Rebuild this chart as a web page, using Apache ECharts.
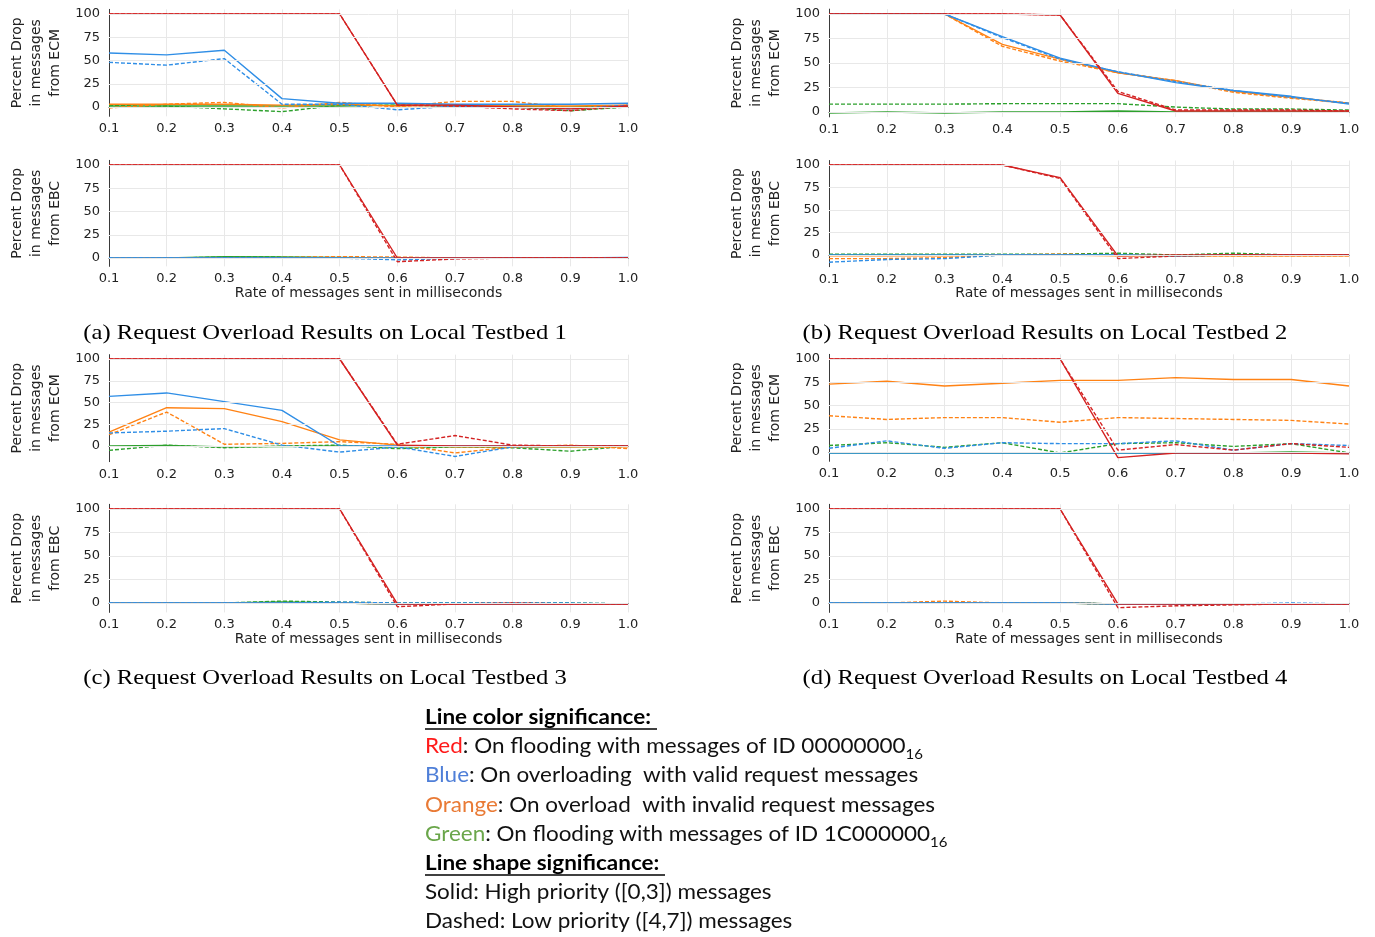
<!DOCTYPE html>
<html>
<head>
<meta charset="utf-8">
<script src="https://cdn.jsdelivr.net/npm/echarts@6/dist/echarts.min.js"></script>
<style>
html,body{margin:0;padding:0;background:#fff;}
#c{width:1375px;height:937px;}
</style>
</head>
<body>
<div id="c"></div>
<script>
// ---------------- DATA ----------------
const rates = ['0.1','0.2','0.3','0.4','0.5','0.6','0.7','0.8','0.9','1.0'];
const yTicks = [0, 25, 50, 75, 100];

// Testbed 1 – ECM
const t1_ecm_red_hi    = [100,100,100,100,100,2,2,0,-2,1];
const t1_ecm_red_lo    = [100,100,100,100,100,2,1,-2,-4,1];
const t1_ecm_blue_hi   = [58,56,61,9,4,4,3,3,3,4];
const t1_ecm_blue_lo   = [48,45,52,3,3,-3,1,0,-2,2];
const t1_ecm_orange_hi = [3,3,3,2,3,1,2,1,1,2];
const t1_ecm_orange_lo = [-1,3,5,-1,5,0,6,6,-1,2];
const t1_ecm_green_hi  = [1,1,1,1,1,2,1,1,0,1];
const t1_ecm_green_lo  = [2,1,-2,-5,2,2,2,0,-4,0];
// Testbed 1 – EBC
const t1_ebc_red_hi    = [100,100,100,100,100,0,0,0,0,0];
const t1_ebc_red_lo    = [100,100,100,100,100,-4,-1,0,0,0];
const t1_ebc_blue_hi   = [0,0,0,0,0,0,0,0,0,0.5];
const t1_ebc_blue_lo   = [0,0,0,0,0,-2,-0.5,0,0,0];
const t1_ebc_orange_hi = [0,0,0,0,0,0,0,0,0,0];
const t1_ebc_orange_lo = [0,0,0,0.5,1.5,1,0,0,0,0];
const t1_ebc_green_hi  = [0,0,1.5,1,0.5,0,0,0,0,0];
const t1_ebc_green_lo  = [0,0,1,1,0.5,0,0,0,0,0];

// Testbed 2 – ECM
const t2_ecm_red_hi    = [100,100,100,100,99,19,1,1,1,1];
const t2_ecm_red_lo    = [100,100,100,100,99,21,2,2,2,1];
const t2_ecm_blue_hi   = [100,100,100,77,55,41,30,22,16,8];
const t2_ecm_blue_lo   = [100,100,100,76,54,41,31,22,15,9];
const t2_ecm_orange_hi = [100,100,100,69,54,40,32,21,15,9];
const t2_ecm_orange_lo = [100,100,100,67,52,40,32,20,14,9];
const t2_ecm_green_hi  = [-1,0,-1,0,0,1,0,0,0,0];
const t2_ecm_green_lo  = [8,8,8,8.5,8.5,8.5,5,3,3,2];
// Testbed 2 – EBC
const t2_ebc_red_hi    = [100,100,100,100,86,-1,0,0,0,0];
const t2_ebc_red_lo    = [100,100,100,100,85,-4,-1,0,0,0];
const t2_ebc_blue_hi   = [0,0,0,0,0,0,-1,0,0,0];
const t2_ebc_blue_lo   = [-8,-5,-4,0,0,0,-1,0,0,0];
const t2_ebc_orange_hi = [-1,-1,-1,0,0,-1,-1,-1,-1,-1];
const t2_ebc_orange_lo = [-4,-4,-3,0,1,0,-1,-1,-1,-1];
const t2_ebc_green_hi  = [0,0,0,0,0,0,-1,0,0,0];
const t2_ebc_green_lo  = [1,1,1,1,1,2,0,2,0,0];

// Testbed 3 – ECM
const t3_ecm_red_hi    = [100,100,100,100,100,1,0,0,0,0];
const t3_ecm_red_lo    = [100,100,100,100,100,2,12,1,0,0];
const t3_ecm_blue_hi   = [57,61,51,41,0,0,0,0,0,0];
const t3_ecm_blue_lo   = [15,17,20,1,-7,-1,-12,-1,0,0];
const t3_ecm_orange_hi = [16,44,43,28,7,1,-1,-1,-1,-1];
const t3_ecm_orange_lo = [13,39,2,3,5,2,-8,-1,1,-3];
const t3_ecm_green_hi  = [0,0.5,-1,-0.5,0,-1,-1,-1,-1,0];
const t3_ecm_green_lo  = [-5,1,-2,0,1,-3,-1,-2,-6,0];
// Testbed 3 – EBC
const t3_ebc_red_hi    = [100,100,100,100,100,-1,-1,-1,-1,-1];
const t3_ebc_red_lo    = [100,100,100,100,100,-4,-1,0,-1,-1];
const t3_ebc_blue_hi   = [0,0,0,0,0,-1,-1,-1,-1,-1];
const t3_ebc_blue_lo   = [0,0,0,0,1,0,0,0,0,-1];
const t3_ebc_orange_hi = [0,0,0,0,0,-1,-1,-1,-1,-1];
const t3_ebc_orange_lo = [0,0,0,0,0,-1,-1,-1,-1,-1];
const t3_ebc_green_hi  = [0,0,0,1,0,-1,-1,-1,-1,-1];
const t3_ebc_green_lo  = [0,0,0,2,1,0,0,0,0,-1];

// Testbed 4 – ECM
const t4_ecm_red_hi    = [100,100,100,100,100,-6,-1,-1,-1,-2];
const t4_ecm_red_lo    = [100,100,100,100,100,2,8,2,9,5];
const t4_ecm_blue_hi   = [-1,-1,-1,-1,-1,-1,-1,-1,-1,-1];
const t4_ecm_blue_lo   = [4,12,4,10,9,9,12,2,9,7];
const t4_ecm_orange_hi = [73,76,71,74,77,77,80,78,78,71];
const t4_ecm_orange_lo = [39,35,37,37,32,37,36,35,34,30];
const t4_ecm_green_hi  = [-1,-1,-1,-1,-1,-1,-1,-1,0,-1];
const t4_ecm_green_lo  = [7,10,5,10,-1,9,10,6,9,-1];
// Testbed 4 – EBC
const t4_ebc_red_hi    = [100,100,100,100,100,-1,-1,-1,-1,-1];
const t4_ebc_red_lo    = [100,100,100,100,100,-5,-3,-2,-1,-1];
const t4_ebc_blue_hi   = [0,0,0,0,0,-1,-1,-1,-1,-1];
const t4_ebc_blue_lo   = [0,0,0,0,0,-1,-1,-1,0,-1];
const t4_ebc_orange_hi = [0,0,0,0,0,-1,-1,-1,-1,-1];
const t4_ebc_orange_lo = [0,0,2,0,0,-1,-1,-1,-1,-1];
const t4_ebc_green_hi  = [0,0,0,0,0,-1,-1,-1,-1,-1];
const t4_ebc_green_lo  = [0,0,0,0,0,-1,-1,-1,-1,-1];

const yNameECM = 'Percent Drop\nin messages\nfrom ECM';
const yNameEBC = 'Percent Drop\nin messages\nfrom EBC';
const xName = 'Rate of messages sent in milliseconds';
const captions = [
  '(a) Request Overload Results on Local Testbed 1',
  '(b) Request Overload Results on Local Testbed 2',
  '(c) Request Overload Results on Local Testbed 3',
  '(d) Request Overload Results on Local Testbed 4'
];

// ---------------- LAYOUT ----------------
const COLORS = {green:'#2ca02c', orange:'#ff8214', blue:'#2f8ee6', red:'#d42222'};
const panels = [
  {x0:109, x1:628, y100:14,  y0:107, min:-10, max:105, yName:yNameECM, xTitle:false,
   d:{red:[t1_ecm_red_hi,t1_ecm_red_lo],blue:[t1_ecm_blue_hi,t1_ecm_blue_lo],orange:[t1_ecm_orange_hi,t1_ecm_orange_lo],green:[t1_ecm_green_hi,t1_ecm_green_lo]}},
  {x0:109, x1:628, y100:165, y0:258, min:-9,  max:105, yName:yNameEBC, xTitle:true,
   d:{red:[t1_ebc_red_hi,t1_ebc_red_lo],blue:[t1_ebc_blue_hi,t1_ebc_blue_lo],orange:[t1_ebc_orange_hi,t1_ebc_orange_lo],green:[t1_ebc_green_hi,t1_ebc_green_lo]}},
  {x0:829, x1:1349, y100:14, y0:112, min:-5,  max:105, yName:yNameECM, xTitle:false,
   d:{red:[t2_ecm_red_hi,t2_ecm_red_lo],blue:[t2_ecm_blue_hi,t2_ecm_blue_lo],orange:[t2_ecm_orange_hi,t2_ecm_orange_lo],green:[t2_ecm_green_hi,t2_ecm_green_lo]}},
  {x0:829, x1:1349, y100:165, y0:255, min:-13, max:105, yName:yNameEBC, xTitle:true,
   d:{red:[t2_ebc_red_hi,t2_ebc_red_lo],blue:[t2_ebc_blue_hi,t2_ebc_blue_lo],orange:[t2_ebc_orange_hi,t2_ebc_orange_lo],green:[t2_ebc_green_hi,t2_ebc_green_lo]}},
  {x0:109, x1:628, y100:359, y0:446, min:-18, max:105, yName:yNameECM, xTitle:false,
   d:{red:[t3_ecm_red_hi,t3_ecm_red_lo],blue:[t3_ecm_blue_hi,t3_ecm_blue_lo],orange:[t3_ecm_orange_hi,t3_ecm_orange_lo],green:[t3_ecm_green_hi,t3_ecm_green_lo]}},
  {x0:109, x1:628, y100:509, y0:603, min:-10, max:105, yName:yNameEBC, xTitle:true,
   d:{red:[t3_ebc_red_hi,t3_ebc_red_lo],blue:[t3_ebc_blue_hi,t3_ebc_blue_lo],orange:[t3_ebc_orange_hi,t3_ebc_orange_lo],green:[t3_ebc_green_hi,t3_ebc_green_lo]}},
  {x0:829, x1:1349, y100:359, y0:452, min:-10, max:105, yName:yNameECM, xTitle:false,
   d:{red:[t4_ecm_red_hi,t4_ecm_red_lo],blue:[t4_ecm_blue_hi,t4_ecm_blue_lo],orange:[t4_ecm_orange_hi,t4_ecm_orange_lo],green:[t4_ecm_green_hi,t4_ecm_green_lo]}},
  {x0:829, x1:1349, y100:509, y0:603, min:-10, max:105, yName:yNameEBC, xTitle:true,
   d:{red:[t4_ebc_red_hi,t4_ebc_red_lo],blue:[t4_ebc_blue_hi,t4_ebc_blue_lo],orange:[t4_ebc_orange_hi,t4_ebc_orange_lo],green:[t4_ebc_green_hi,t4_ebc_green_lo]}}
];

const FONT = 'DejaVu Sans';
const grids = [], xAxes = [], yAxes = [], series = [];
panels.forEach((p, i) => {
  const k = (p.y0 - p.y100) / 100;
  const top = p.y100 - (p.max - 100) * k;
  const height = (p.max - p.min) * k;
  grids.push({left: p.x0, top: top, width: p.x1 - p.x0, height: height, containLabel: false});
  xAxes.push({
    type: 'category', gridIndex: i, data: rates, boundaryGap: false,
    axisLine: {show: true, lineStyle: {color: '#3a3a3a', width: 1}},
    axisTick: {show: false},
    axisLabel: {fontSize: 13, fontFamily: FONT, color: '#222', margin: 6, showMinLabel: true, showMaxLabel: true, interval: 0},
    splitLine: {show: true, lineStyle: {color: '#e8e8e8', width: 1}},
    name: p.xTitle ? xName : '', nameLocation: 'middle', nameGap: 19,
    nameTextStyle: {fontSize: 14, fontFamily: FONT, color: '#222', verticalAlign: 'top'}
  });
  yAxes.push({
    type: 'value', gridIndex: i, min: p.min, max: p.max,
    axisLine: {show: true, lineStyle: {color: '#3a3a3a', width: 1}},
    axisTick: {show: false, customValues: yTicks},
    axisLabel: {fontSize: 13, fontFamily: FONT, color: '#222', margin: 9, customValues: yTicks},
    splitLine: {show: false},
    name: p.yName, nameLocation: 'middle', nameGap: 44,
    nameTextStyle: {fontSize: 14, lineHeight: 19, fontFamily: FONT, color: '#222'}
  });
  // light horizontal grid lines at the tick values
  series.push({
    type: 'line', xAxisIndex: i, yAxisIndex: i, data: [], silent: true, z: 1,
    markLine: {
      silent: true, symbol: ['none', 'none'], animation: false,
      label: {show: false},
      lineStyle: {color: '#e8e8e8', type: 'solid', width: 1},
      data: yTicks.map(v => ({yAxis: v}))
    }
  });
  ['green', 'orange', 'blue', 'red'].forEach(c => {
    [0, 1].forEach(s => {
      series.push({
        type: 'line', xAxisIndex: i, yAxisIndex: i, data: p.d[c][s],
        symbol: 'none', animation: false, z: 3,
        lineStyle: {color: COLORS[c], width: 1.4, type: s === 0 ? 'solid' : [4, 2]}
      });
    });
  });
});

// ---------------- TEXT (captions + legend) ----------------
const graphic = [];
const capPos = [[325, 333], [1045, 333], [325, 678], [1045, 678]];
captions.forEach((t, i) => {
  graphic.push({type: 'text', x: capPos[i][0], y: capPos[i][1], scaleX: 1.12, silent: true,
    style: {text: t, fontSize: 22, fontFamily: 'Liberation Serif', fill: '#000', align: 'center', verticalAlign: 'middle'}});
});
const LEG_FONT = 'Lato';
const rich = {
  h: {fontWeight: 'bold', fontSize: 21, fontFamily: LEG_FONT, fill: '#000'},
  r: {fontSize: 21, fontFamily: LEG_FONT, fill: '#ff1a1a'},
  b: {fontSize: 21, fontFamily: LEG_FONT, fill: '#4f7fd8'},
  o: {fontSize: 21, fontFamily: LEG_FONT, fill: '#e97a35'},
  g: {fontSize: 21, fontFamily: LEG_FONT, fill: '#6aa64a'},
  n: {fontSize: 21, fontFamily: LEG_FONT, fill: '#111'},
  s: {fontSize: 14, fontFamily: LEG_FONT, fill: '#111', verticalAlign: 'bottom', lineHeight: 14}
};
const legendLines = [
  '{h|Line color significance:}',
  '{r|Red}{n|: On flooding with messages of ID 00000000}{s|16}',
  '{b|Blue}{n|: On overloading  with valid request messages}',
  '{o|Orange}{n|: On overload  with invalid request messages}',
  '{g|Green}{n|: On flooding with messages of ID 1C000000}{s|16}',
  '{h|Line shape significance:}',
  '{n|Solid: High priority ([0,3]) messages}',
  '{n|Dashed: Low priority ([4,7]) messages}'
];
const legY = [717, 746, 775, 805, 834, 863, 892, 921];
legendLines.forEach((t, i) => {
  graphic.push({type: 'text', x: 425, y: legY[i], scaleX: 1.07, silent: true,
    style: {text: t, rich: rich, fontSize: 21, fontFamily: LEG_FONT, fill: '#111', align: 'left', verticalAlign: 'middle', lineHeight: 30}});
});
graphic.push({type: 'line', silent: true, shape: {x1: 425, y1: 729, x2: 657, y2: 729}, style: {stroke: '#000', lineWidth: 1.5}});
graphic.push({type: 'line', silent: true, shape: {x1: 425, y1: 875, x2: 665, y2: 875}, style: {stroke: '#000', lineWidth: 1.5}});

const chart = echarts.init(document.getElementById('c'));
chart.setOption({
  backgroundColor: '#fff',
  animation: false,
  grid: grids, xAxis: xAxes, yAxis: yAxes, series: series,
  graphic: graphic
});
</script>
</body>
</html>
